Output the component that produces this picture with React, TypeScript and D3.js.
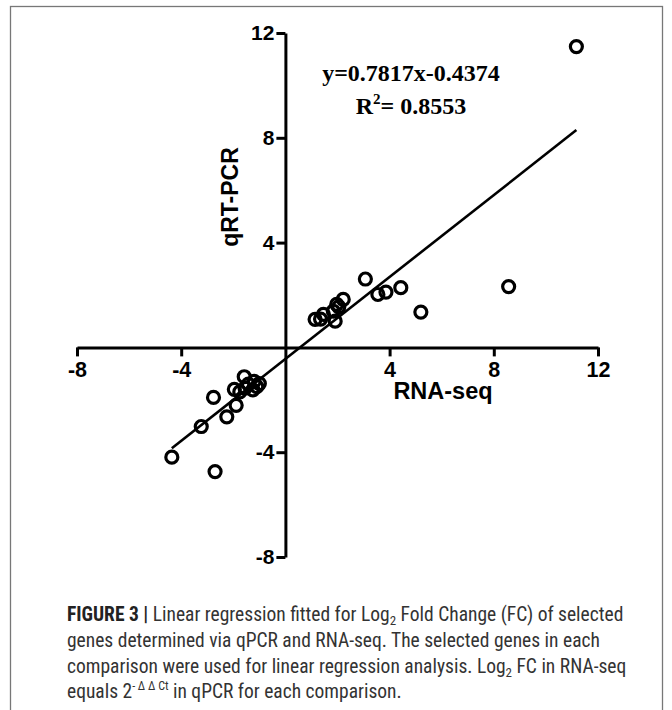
import React, { useEffect, useRef } from "react";
import * as d3 from "d3";

// RNA-seq log2 FC (x) and qRT-PCR log2 FC (y)
const rnaSeq = [
  -4.36, -2.7, -2.76, -3.23, -2.25, -1.89, -1.96, -1.58, -1.42, -1.2, -1.0, -1.25, -1.55, -1.75, -1.1,
  1.14, 1.35, 1.46, 1.91, 1.97, 2.22, 1.84, 2.05, 3.07, 3.55, 3.86, 4.43, 5.2, 8.57, 11.17,
];
const qPCR = [
  -4.19, -4.74, -1.91, -3.02, -2.65, -2.21, -1.6, -1.12, -1.4, -1.3, -1.38, -1.62, -1.55, -1.7, -1.5,
  1.07, 1.08, 1.26, 1.0, 1.64, 1.83, 1.38, 1.55, 2.61, 2.02, 2.11, 2.28, 1.35, 2.32, 11.48,
];
const xTicks = [-8, -4, 4, 8, 12];
const yTicks = [-8, -4, 4, 8, 12];
const slope = 0.7817;
const intercept = -0.4374;
const equationText = "y=0.7817x-0.4374";
const r2Value = "= 0.8553";
const xLabel = "RNA-seq";
const yLabel = "qRT-PCR";

const W = 672;
const H = 710;

export default function App() {
  const gx = useRef<SVGGElement>(null);
  const gy = useRef<SVGGElement>(null);

  const x = d3.scaleLinear().domain([-8, 12]).range([77, 598]);
  const y = d3.scaleLinear().domain([-8, 12]).range([557, 33]);

  useEffect(() => {
    const fmt = (d: any) => String(d);
    const ax = d3
      .axisBottom(x)
      .tickValues(xTicks)
      .tickSize(9)
      .tickSizeOuter(0)
      .tickPadding(5)
      .tickFormat(fmt);
    const sx = d3.select(gx.current!);
    sx.call(ax as any);
    sx.select(".domain").attr("stroke-width", 3);
    sx.selectAll(".tick line").attr("stroke-width", 3);
    sx.selectAll(".tick text")
      .attr("font-family", "'Liberation Sans', Arial, sans-serif")
      .attr("font-weight", "bold")
      .attr("font-size", 21.5)
      .attr("fill", "#000");

    const ay = d3
      .axisLeft(y)
      .tickValues(yTicks)
      .tickSize(9)
      .tickSizeOuter(0)
      .tickPadding(2)
      .tickFormat(fmt);
    const sy = d3.select(gy.current!);
    sy.call(ay as any);
    sy.select(".domain").attr("stroke-width", 3);
    sy.selectAll(".tick line").attr("stroke-width", 3);
    sy.selectAll(".tick text")
      .attr("font-family", "'Liberation Sans', Arial, sans-serif")
      .attr("font-weight", "bold")
      .attr("font-size", 21)
      .attr("fill", "#000");
  }, []);

  const xmin = d3.min(rnaSeq)!;
  const xmax = d3.max(rnaSeq)!;
  const line = d3
    .line<number>()
    .x((d) => x(d))
    .y((d) => y(slope * d + intercept));

  const capFont = "'Liberation Sans Narrow', 'Roboto Condensed', 'Liberation Sans', Arial, sans-serif";

  return (
    <svg
      width={W}
      height={H}
      style={{ position: "absolute", left: 0, top: 0, background: "#fff" }}
    >
      <rect x={10.5} y={6.5} width={652} height={720} fill="#fff" stroke="#777" strokeWidth={1.3} />
      <g ref={gx} transform={`translate(0,${y(0)})`} />
      <g ref={gy} transform={`translate(${x(0)},0)`} />
      <path d={line([xmin, xmax]) || ""} stroke="#000" strokeWidth={2.6} fill="none" />
      {rnaSeq.map((v, i) => (
        <circle key={i} cx={x(v)} cy={y(qPCR[i])} r={6} fill="none" stroke="#000" strokeWidth={3.2} />
      ))}
      <text
        x={443}
        y={399}
        textAnchor="middle"
        fontFamily="'Liberation Sans', Arial, sans-serif"
        fontWeight="bold"
        fontSize={23.5}
      >
        {xLabel}
      </text>
      <text
        transform={`translate(238,197) rotate(-90)`}
        textAnchor="middle"
        fontFamily="'Liberation Sans', Arial, sans-serif"
        fontWeight="bold"
        fontSize={23}
      >
        {yLabel}
      </text>
      <text
        x={411}
        y={81}
        textAnchor="middle"
        fontFamily="'Liberation Serif', 'Times New Roman', serif"
        fontWeight="bold"
        fontSize={24}
      >
        {equationText}
      </text>
      <text
        x={411}
        y={114}
        textAnchor="middle"
        fontFamily="'Liberation Serif', 'Times New Roman', serif"
        fontWeight="bold"
        fontSize={24}
      >
        R<tspan dy={-10} fontSize={15}>2</tspan>
        <tspan dy={10}>{r2Value}</tspan>
      </text>
      <g fontFamily={capFont} fontSize={19.5} fill="#333">
        <text x={67} y={621}>
          <tspan fontWeight="bold" fill="#222">FIGURE 3 | </tspan>
          Linear regression fitted for Log<tspan dy={4} fontSize={13}>2</tspan>
          <tspan dy={-4}> Fold Change (FC) of selected</tspan>
        </text>
        <text x={67} y={647}>
          genes determined via qPCR and RNA-seq. The selected genes in each
        </text>
        <text x={67} y={673}>
          comparison were used for linear regression analysis. Log<tspan dy={4} fontSize={13}>2</tspan>
          <tspan dy={-4}> FC in RNA-seq</tspan>
        </text>
        <text x={67} y={698}>
          equals 2<tspan dy={-8} fontSize={12}>- Δ Δ Ct</tspan>
          <tspan dy={8}> in qPCR for each comparison.</tspan>
        </text>
      </g>
    </svg>
  );
}
